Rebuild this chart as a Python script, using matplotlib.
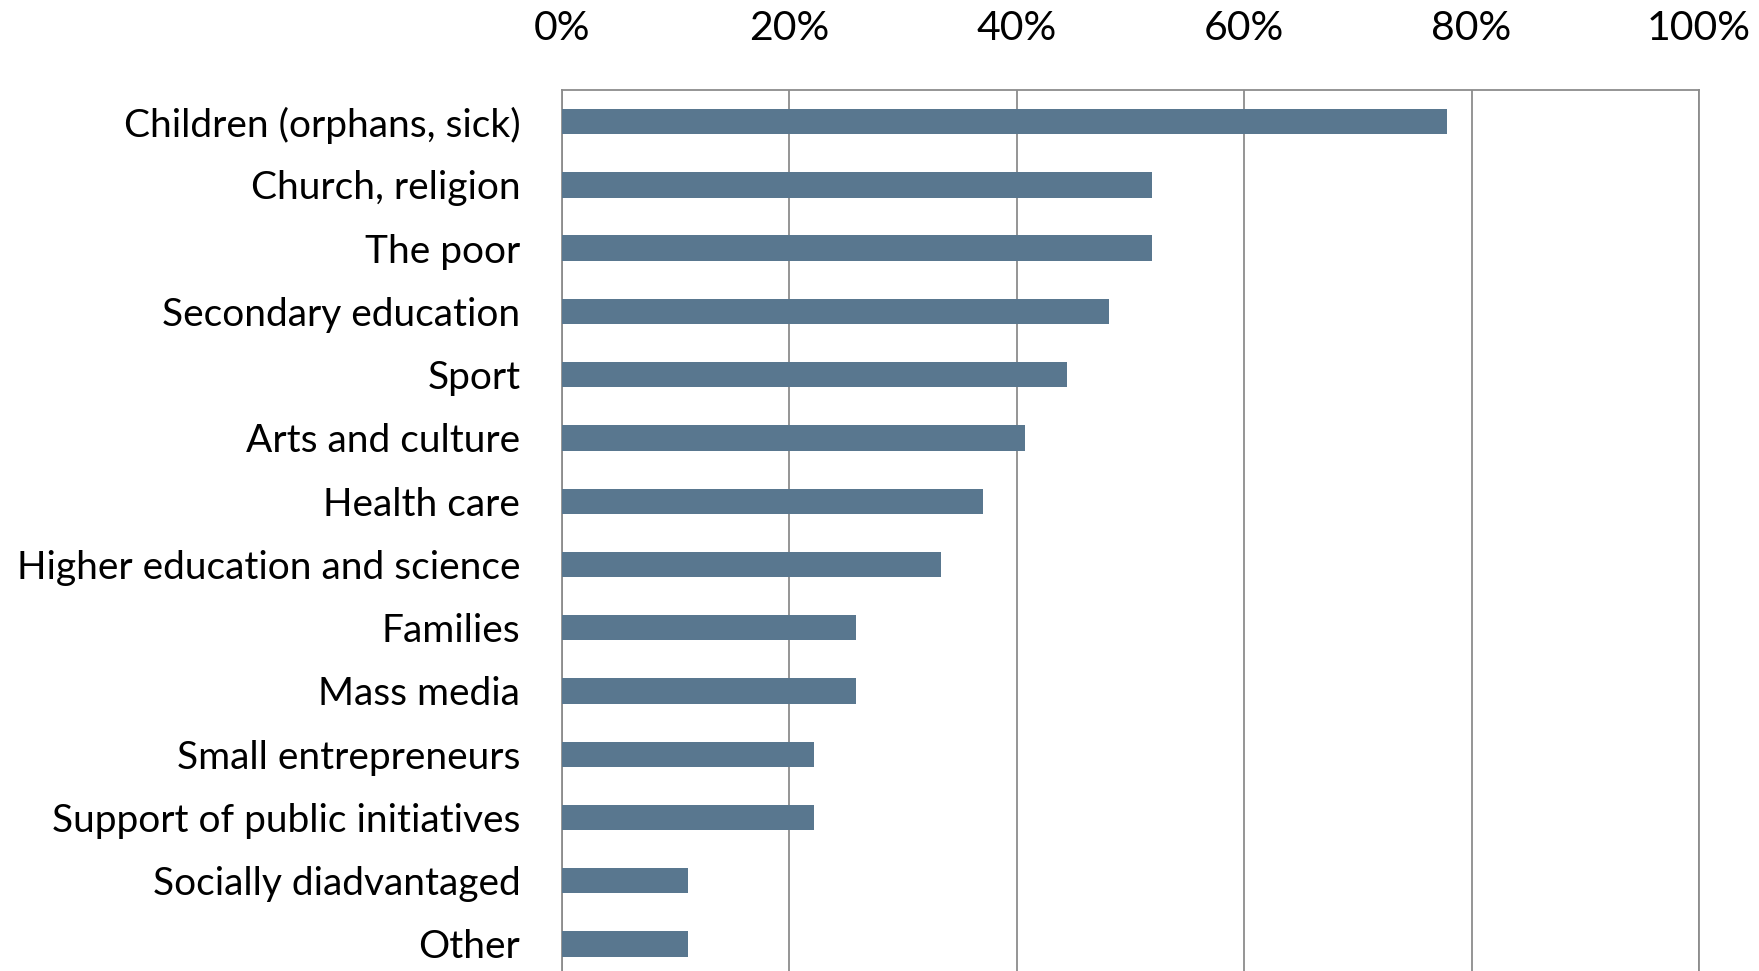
import matplotlib
matplotlib.use("Agg")
import matplotlib.pyplot as plt
from matplotlib.ticker import FuncFormatter

# share of respondents supporting each cause
categories = [
    "Children (orphans, sick)",
    "Church, religion",
    "The poor",
    "Secondary education",
    "Sport",
    "Arts and culture",
    "Health care",
    "Higher education and science",
    "Families",
    "Mass media",
    "Small entrepreneurs",
    "Support of public initiatives",
    "Socially diadvantaged",
    "Other",
]
shares = [77.8, 51.9, 51.9, 48.1, 44.4, 40.7, 37.0, 33.3, 25.9, 25.9, 22.2, 22.2, 11.1, 11.1]
xticks = [0, 20, 40, 60, 80, 100]

plt.rcParams["font.family"] = ["Lato", "DejaVu Sans"]

W, H = 1759, 971
fig = plt.figure(figsize=(W / 100, H / 100), dpi=100)
left, right, top, bottom = 562, 1699, 90, 975.6
ax = fig.add_axes([left / W, 1 - bottom / H, (right - left) / W, (bottom - top) / H])

grid_col = "#8c8c8c"
ax.barh(range(len(categories)), shares, height=0.4, color="#59778f", zorder=3)
ax.set_xlim(0, 100)
ax.set_ylim(len(categories) - 0.5, -0.5)

ax.set_xticks(xticks)
ax.xaxis.set_major_formatter(FuncFormatter(lambda v, p: f"{v:.0f}%"))
ax.xaxis.tick_top()
ax.tick_params(axis="x", length=0, pad=31, labelsize=29.5)
ax.set_yticks(range(len(categories)))
ax.set_yticklabels(categories)
ax.tick_params(axis="y", length=0, pad=30, labelsize=28)
ax.grid(axis="x", color=grid_col, linewidth=1.3, zorder=1)

for side in ["left", "right", "top"]:
    ax.spines[side].set_color(grid_col)
    ax.spines[side].set_linewidth(1.3)
ax.spines["bottom"].set_visible(False)

fig.savefig("out.png", dpi=100)
